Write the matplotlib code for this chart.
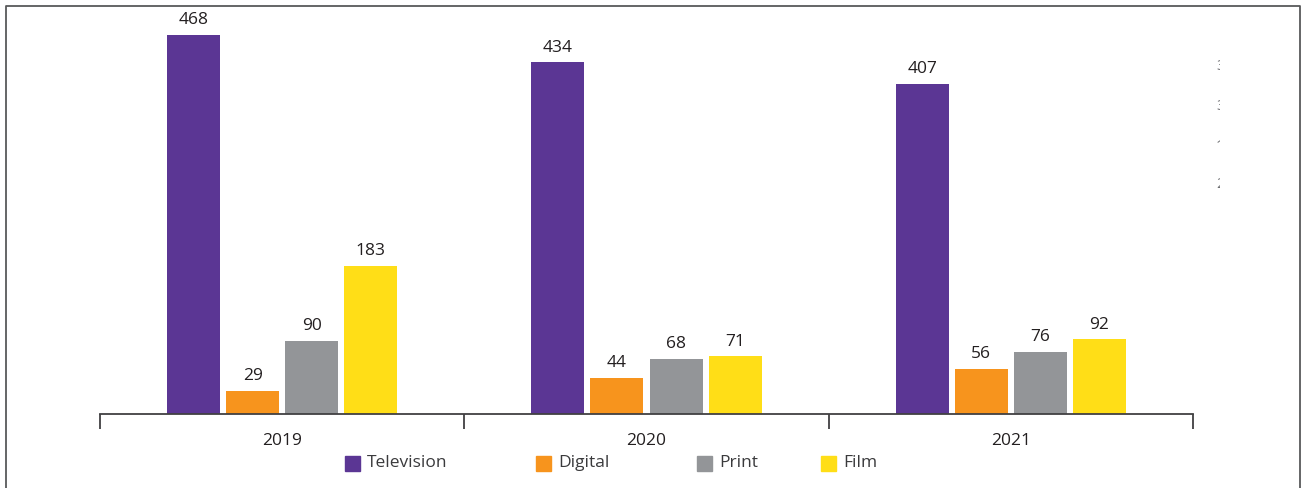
import matplotlib
matplotlib.use('Agg')

import numpy as np
import matplotlib.pyplot as plt
from matplotlib.patches import Rectangle
from matplotlib.lines import Line2D

years = ['2019', '2020', '2021']
media = ['Television', 'Digital', 'Print', 'Film']
television = [468, 434, 407]
digital = [29, 44, 56]
printed = [90, 68, 76]
film = [183, 71, 92]

colors = ['#5b3694', '#f7941d', '#939598', '#ffde17']

plt.rcParams['font.family'] = ['Open Sans', 'DejaVu Sans']

W, H = 1304, 488
fig = plt.figure(figsize=(W / 100, H / 100), dpi=100)

# axes in pixel terms: baseline at y=414, x from 100 to 1193
ax = fig.add_axes([100 / W, 74 / H, 1093 / W, 405 / H])
ax.set_xlim(-0.5, 2.5)
ax.set_ylim(0, 500)

x = np.arange(len(years))
width = 53 / 364
step = 59 / 364
series = [television, digital, printed, film]
for i, (vals, c) in enumerate(zip(series, colors)):
    pos = x + (i - 1.5) * step
    bars = ax.bar(pos, vals, width, color=c, zorder=2)
    for b, v in zip(bars, vals):
        ax.annotate(str(v), (b.get_x() + b.get_width() / 2, v),
                    xytext=(0, 5), textcoords='offset points',
                    ha='center', va='bottom', fontsize=12.5, color='#231f20')

for s in ['top', 'right', 'left']:
    ax.spines[s].set_visible(False)
ax.spines['bottom'].set_color('#414042')
ax.spines['bottom'].set_linewidth(1.3)
ax.set_yticks([])

# group dividers hang below the baseline
ax.set_xticks([-0.5, 0.5, 1.5, 2.5])
ax.set_xticklabels([])
ax.tick_params(axis='x', direction='out', length=10.5, width=1.3, color='#414042')
ax.set_xticks(x, minor=True)
ax.set_xticklabels(years, minor=True, fontsize=12.5, color='#231f20')
ax.tick_params(axis='x', which='minor', length=0, pad=14)

# legend keys laid out by hand
key_x = [345, 536, 697, 821]
key_y = 463
for kx, label, c in zip(key_x, media, colors):
    fig.patches.append(Rectangle((kx / W, (H - key_y - 7.5) / H), 15 / W, 15 / H,
                                 transform=fig.transFigure, color=c))
    fig.text((kx + 22) / W, (H - key_y) / H, label, fontsize=12.5,
             color='#3a3a3c', va='center', ha='left')

# stray labels cut off at the right edge of the plot area
clip_ax = fig.add_axes([1190 / W, 0, 30 / W, 1])
clip_ax.set_axis_off()
clip_ax.set_xlim(1190, 1220)
clip_ax.set_ylim(H, 0)
for ty, t in zip([67, 106, 146, 185], ['3', '3', '1', '2']):
    clip_ax.text(1216, ty, t, fontsize=11, color='#6d6e71', va='center',
                 ha='left', clip_on=True)

# outer frame (top, left, right)
fig.lines.append(Line2D([6 / W, 6 / W, 1300 / W, 1300 / W],
                        [0, (H - 6) / H, (H - 6) / H, 0],
                        transform=fig.transFigure, color='#58595b', lw=1.3))

fig.savefig('out.png', dpi=100)
